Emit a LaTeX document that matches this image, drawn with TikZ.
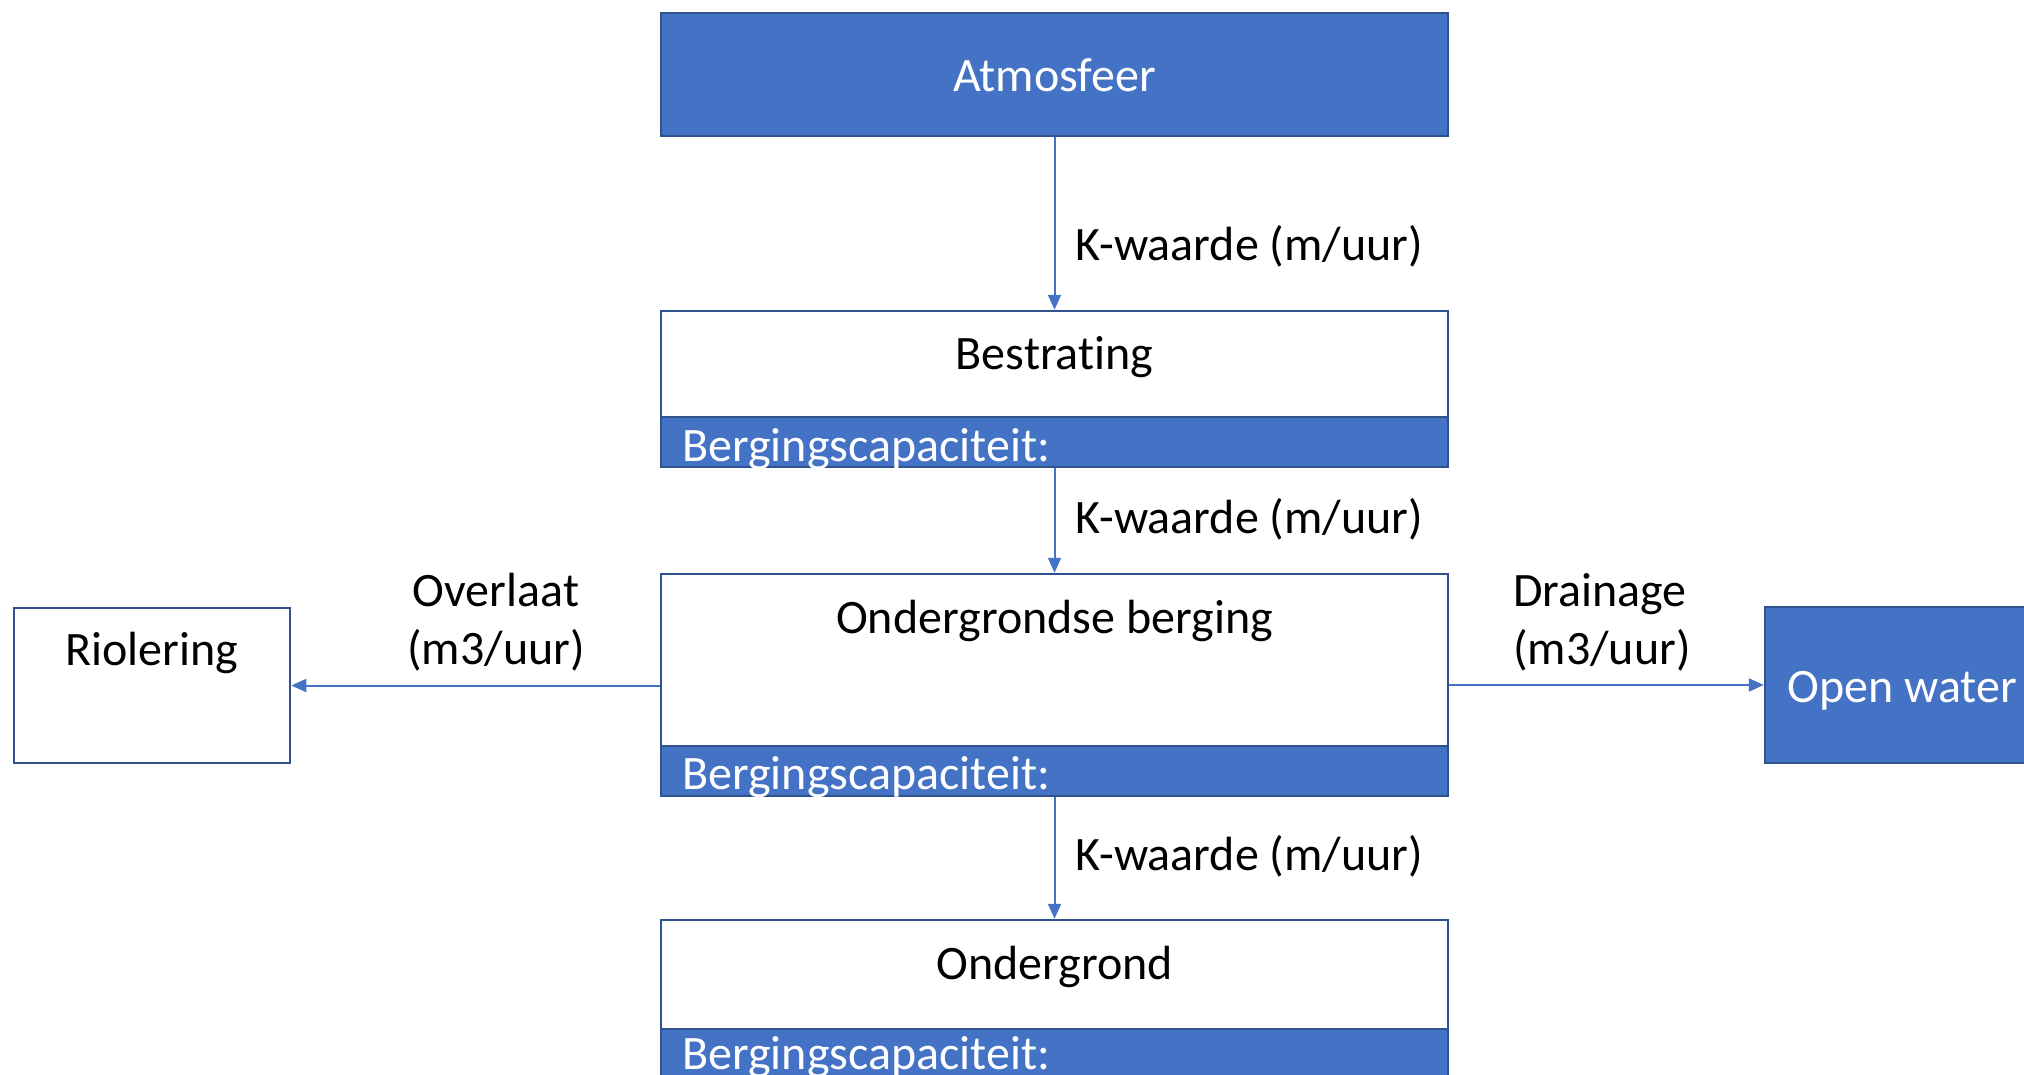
\documentclass[tikz,border=0pt]{standalone}
\usepackage{fontspec}
\setmainfont{Carlito}[Ligatures=NoCommon]
\usetikzlibrary{arrows.meta}
\definecolor{vakblauw}{HTML}{4472C4}
\definecolor{randblauw}{HTML}{2F528F}
\begin{document}
\begin{tikzpicture}[x=1pt,y=-1pt,
  vak/.style={draw=randblauw, line width=2.5pt, inner sep=0pt},
  wit/.style={vak, fill=white},
  blauw/.style={vak, fill=vakblauw},
  txt/.style={font=\fontsize{48}{58}\selectfont, inner sep=0pt, text height=34pt, text depth=0pt},
  twee/.style={font=\fontsize{48}{58}\selectfont, inner sep=0pt},
  stroom/.style={draw=vakblauw, line width=2pt, -{Triangle[length=15pt,width=13pt]}}]
\path[use as bounding box, clip] (0,0) rectangle (2024,1074);
\node[blauw, txt, text=white, minimum width=787pt, minimum height=123pt] (atm) at (1054.5,74.5) {Atmosfeer};
\node[wit, minimum width=787pt, minimum height=106pt] (best) at (1054.5,364) {};
\node[blauw, minimum width=787pt, minimum height=50pt] (bbest) at (1054.5,442) {};
\node[txt] (tbest) at (1054.5,352) {Bestrating};
\node[txt, text=white, anchor=west] (cbest) at (682,444) {Bergingscapaciteit:};
\node[wit, minimum width=787pt, minimum height=172pt] (ond) at (1054.5,660) {};
\node[blauw, minimum width=787pt, minimum height=50pt] (bond) at (1054.5,771) {};
\node[txt] (tond) at (1054.5,616) {Ondergrondse berging};
\node[txt, text=white, anchor=west] (cond) at (682,772) {Bergingscapaciteit:};
\node[wit, minimum width=787pt, minimum height=109pt] (grond) at (1054.5,974.5) {};
\node[blauw, minimum width=787pt, minimum height=50pt] (bgrond) at (1054.5,1054) {};
\node[txt] (tgrond) at (1054.5,962) {Ondergrond};
\node[txt, text=white, anchor=west] (cgrond) at (682,1052) {Bergingscapaciteit:};
\node[wit, minimum width=276pt, minimum height=155pt] (riool) at (152,685.5) {};
\node[txt] (triool) at (152,648) {Riolering};
\node[blauw, txt, text=white, minimum width=274pt, minimum height=156pt] (water) at (1902,685) {Open water};
\draw[stroom] (atm) -- (best);
\draw[stroom] (bbest) -- (ond);
\draw[stroom] (bond) -- (grond);
\draw[stroom] (ond.west |- riool) -- (riool);
\draw[stroom] (ond.east |- water) -- (water);
\node[txt, anchor=west] (k1) at (1075,243) {K-waarde (m/uur)};
\node[txt, anchor=west] (k2) at (1075,516) {K-waarde (m/uur)};
\node[txt, anchor=west] (k3) at (1075,853) {K-waarde (m/uur)};
\node[twee, align=center] (over) at (496,622) {Overlaat\\(m3/uur)};
\node[twee, align=left, anchor=west] (drain) at (1513,622) {Drainage\\(m3/uur)};
\end{tikzpicture}
\end{document}
